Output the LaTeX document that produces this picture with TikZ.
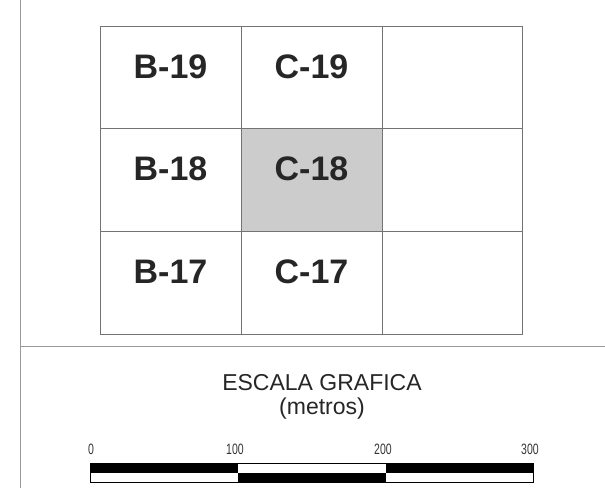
\documentclass[tikz,border=0pt]{standalone}
\usepackage{fontspec}
\setmainfont{Liberation Sans}
\usepackage{tikz}
\usetikzlibrary{calc}
\tikzset{
    gridline/.style={line width=1pt, draw=black!55},
    framerule/.style={line width=1pt, draw=black!40},
    sheetlabel/.style={font=\fontsize{34}{34}\selectfont\bfseries, text=black!85},
    scaletext/.style={font=\fontsize{23}{23}\selectfont, text=black!85},
    ticklabel/.style={font=\fontsize{15}{15}\selectfont, text=black!80, inner sep=0pt, xscale=0.7},
}

\begin{document}
\begin{tikzpicture}[x=1pt, y=-1pt]
            \useasboundingbox (0,0) rectangle (605,488);

            % sheet frame
            \draw[framerule] (20,0) -- (20,488);
            \draw[framerule] (20,346) -- (605,346);

            % index grid
            \coordinate (NW) at (100,26);
            \coordinate (SE) at (522,334);
            \coordinate (X1) at (241,0);
            \coordinate (X2) at (382,0);
            \coordinate (Y1) at (0,128);
            \coordinate (Y2) at (0,231);

            \fill[black!20] (X1 |- Y1) rectangle (X2 |- Y2);
            \draw[gridline] (NW) rectangle (SE);
            \draw[gridline] (X1 |- NW) -- (X1 |- SE);
            \draw[gridline] (X2 |- NW) -- (X2 |- SE);
            \draw[gridline] (NW |- Y1) -- (SE |- Y1);
            \draw[gridline] (NW |- Y2) -- (SE |- Y2);

            \node[sheetlabel] (b19) at (170.5,67) {B-19};
            \node[sheetlabel] (c19) at (311.5,67) {C-19};
            \node[sheetlabel] (b18) at (170.5,169) {B-18};
            \node[sheetlabel] (c18) at (311.5,169) {C-18};
            \node[sheetlabel] (b17) at (170.5,272) {B-17};
            \node[sheetlabel] (c17) at (311.5,272) {C-17};

            % scale bar
            \node[scaletext] (title) at (322,383) {ESCALA GRAFICA};
            \node[scaletext] (units) at (322,409) {(metros)};

            \coordinate (S0) at (90,463);
            \coordinate (S1) at (238,472.5);
            \coordinate (S2) at (386,463);
            \coordinate (S3) at (533,482);

            \fill[black] (S0) rectangle (S1 |- S1);
            \fill[black] (S1) rectangle (S2 |- S3);
            \fill[black] (S2) rectangle (S3 |- S1);
            \draw[black, line width=0.8pt] (S0) rectangle (S3);

            \node[ticklabel, anchor=south] (t0) at ($(S0)+(1,-8)$) {0};
            \node[ticklabel, anchor=south] (t1) at ($(S1 |- S0)+(-3,-8)$) {100};
            \node[ticklabel, anchor=south] (t2) at ($(S2)+(-3,-8)$) {200};
            \node[ticklabel, anchor=south] (t3) at ($(S3 |- S0)+(-3,-8)$) {300};

        \end{tikzpicture}
\end{document}
